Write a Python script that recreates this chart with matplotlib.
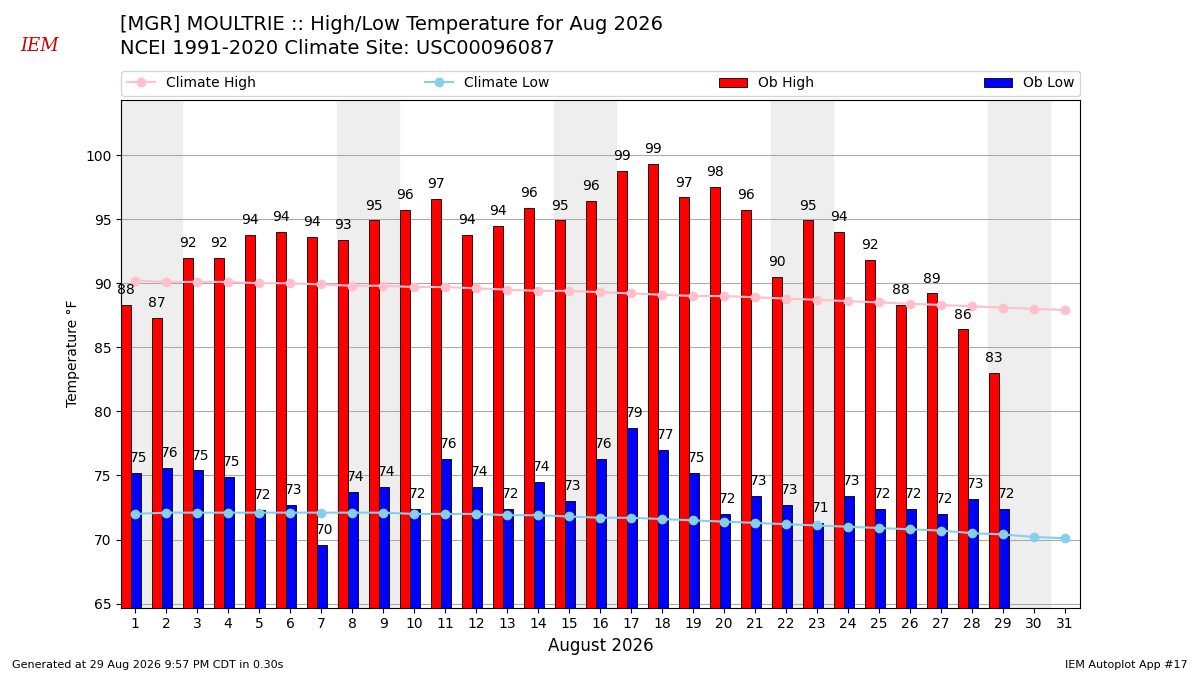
import matplotlib.pyplot as plt
import numpy as np

days = np.arange(1, 32)
clim_high = [90.2, 90.1, 90.1, 90.1, 90.0, 90.0, 89.9, 89.8, 89.8, 89.7, 89.7, 89.6, 89.5,
             89.4, 89.4, 89.3, 89.2, 89.1, 89.0, 89.0, 88.9, 88.8, 88.7, 88.6, 88.5, 88.4,
             88.3, 88.2, 88.1, 88.0, 87.9]
clim_low = [72.0, 72.1, 72.1, 72.1, 72.1, 72.1, 72.1, 72.1, 72.1, 72.0, 72.0, 72.0, 71.9,
            71.9, 71.8, 71.7, 71.7, 71.6, 71.5, 71.4, 71.3, 71.2, 71.1, 71.0, 70.9, 70.8,
            70.7, 70.5, 70.4, 70.2, 70.1]
ob_high = [88.3, 87.3, 92.0, 92.0, 93.75, 94.0, 93.6, 93.4, 94.9, 95.7, 96.6, 93.75, 94.5,
           95.9, 94.9, 96.4, 98.75, 99.3, 96.7, 97.5, 95.7, 90.5, 94.9, 94.0, 91.8, 88.3,
           89.2, 86.4, 83.0]
ob_low = [75.2, 75.6, 75.4, 74.9, 72.3, 72.7, 69.6, 73.7, 74.1, 72.4, 76.3, 74.1, 72.4,
          74.5, 73.0, 76.3, 78.7, 77.0, 75.2, 72.0, 73.4, 72.7, 71.3, 73.4, 72.4, 72.4,
          72.0, 73.2, 72.4]
weekends = [1, 8, 15, 22, 29]

fig = plt.figure(figsize=(12, 6.75), dpi=100)
ax = fig.add_axes([0.101, 0.1, 0.799, 0.752])

for w in weekends:
    ax.axvspan(w - 0.5, w + 1.5, color="#eeeeee", zorder=0)

ob_days = days[:len(ob_high)]
hb = ax.bar(ob_days - 0.3, ob_high, width=0.32, color="red", edgecolor="black", linewidth=0.6,
            zorder=2)
lb = ax.bar(ob_days + 0.03, ob_low, width=0.32, color="blue", edgecolor="black", linewidth=0.6,
            zorder=2)
for d, h, l in zip(ob_days, ob_high, ob_low):
    ax.text(d - 0.3, h + 0.6, f"{h:.0f}", ha="center", va="bottom", fontsize=10, zorder=4)
    ax.text(d + 0.1, l + 0.6, f"{l:.0f}", ha="center", va="bottom", fontsize=10, zorder=4)

ch, = ax.plot(days, clim_high, color="pink", marker="o", markersize=6, zorder=3)
cl, = ax.plot(days, clim_low, color="skyblue", marker="o", markersize=6, zorder=3)

ax.set_xlim(0.55, 31.48)
ax.set_ylim(64.7, 104.3)
ax.set_xticks(days)
ax.set_yticks(range(65, 101, 5))
ax.yaxis.grid(True, color="#aaaaaa", linewidth=0.8)
ax.set_axisbelow(True)
ax.set_ylabel("Temperature °F")
ax.set_xlabel("August 2026", fontsize=12)

fig.legend([ch, cl, hb, lb], ["Climate High", "Climate Low", "Ob High", "Ob Low"], ncol=4,
           mode="expand", loc="lower left", bbox_to_anchor=(0.101, 0.858, 0.799, 0.04),
           fontsize=10, borderaxespad=0)

fig.text(0.1, 0.955, "[MGR] MOULTRIE :: High/Low Temperature for Aug 2026", fontsize=14)
fig.text(0.1, 0.92, "NCEI 1991-2020 Climate Site: USC00096087", fontsize=14)
fig.text(0.017, 0.925, "IEM", color="#cc0000", fontsize=13, style="italic", family="serif")
fig.text(0.01, 0.01, "Generated at 29 Aug 2026 9:57 PM CDT in 0.30s", fontsize=8)
fig.text(0.99, 0.01, "IEM Autoplot App #17", fontsize=8, ha="right")

fig.savefig("out.png")
